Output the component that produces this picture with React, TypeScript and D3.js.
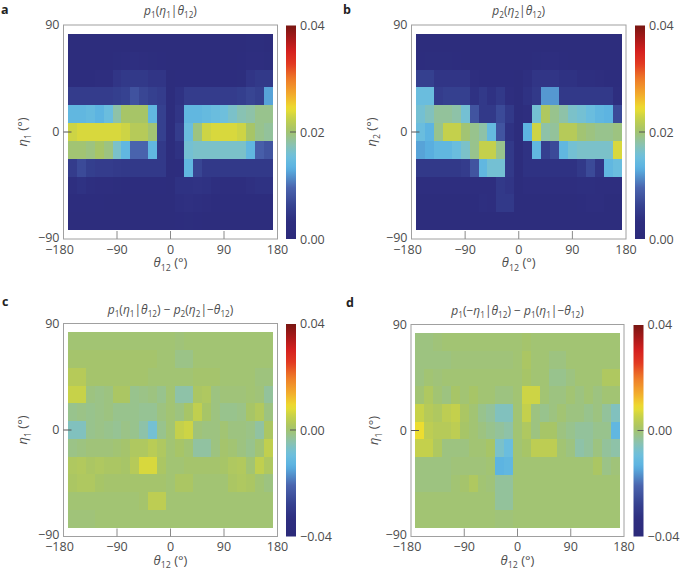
import React from 'react';
import * as d3 from 'd3';

// bin centres (degrees)
const thetaCenters = [-165, -150, -135, -120, -105, -90, -75, -60, -45, -30, -15, 0, 15, 30, 45, 60, 75, 90, 105, 120, 135, 150, 165];
const etaCenters = [75, 60, 45, 30, 15, 0, -15, -30, -45, -60, -75];
const xTicks = [-180, -90, 0, 90, 180];
const yTicks = [90, 0, -90];

// values in units of 1e-3, rows follow etaCenters, columns follow thetaCenters
const pA = [
  [1.8, 1.8, 1.8, 1.8, 1.8, 1.8, 2, 2, 2, 1.8, 1.8, 1.8, 1.8, 1.8, 1.8, 1.8, 1.8, 1.8, 1.8, 2, 2.6, 2.6, 2],
  [2, 2, 2, 2, 2, 2.6, 2.8, 3.4, 3.2, 2.6, 2.4, 1.8, 2, 2, 2, 2, 2, 2, 2, 2.4, 3, 3, 2.6],
  [2.5, 2.5, 2.5, 2.8, 3, 4.5, 5, 5, 5, 4.5, 4.5, 1.8, 2.2, 2.2, 2.2, 2.2, 2.3, 2.3, 2.4, 2.6, 4.5, 5, 5],
  [5.5, 5.5, 5.5, 5.5, 5.5, 5.8, 6.2, 7.8, 6.6, 6, 5.5, 2, 4, 5.5, 5.5, 5.5, 5.5, 5.5, 5.5, 5.8, 6.5, 6, 12.5],
  [14, 14, 14.5, 13.5, 15, 18, 20.5, 20.5, 20.5, 14, 6, 2, 4.5, 14, 14, 14.5, 15, 15.5, 16.5, 17.5, 18, 19, 19],
  [23, 23.5, 23.5, 23.5, 23.5, 23.5, 23, 21.5, 21.5, 20, 6, 2, 5.5, 15, 19.5, 23, 23.5, 23.5, 23.5, 23, 20.5, 19, 18.5],
  [20, 20, 19.5, 20.5, 19.5, 16.5, 14, 9.5, 9.5, 14, 5, 2, 4, 16, 16.5, 16.5, 16.5, 16.5, 16.5, 16.5, 14, 9, 8],
  [5.5, 7, 5.8, 5.5, 5.5, 5.2, 5, 5, 5, 5, 5, 2, 2.5, 14, 6.5, 5, 5, 5, 5, 5, 5, 5, 5],
  [3.5, 4, 3.5, 3, 3, 2.6, 2.5, 2.5, 2.5, 2.5, 2.5, 2, 4, 4, 4.2, 4, 3.5, 2.8, 2.8, 3, 3.8, 4, 4],
  [2.2, 2.2, 2.2, 2.2, 2, 2, 2, 2, 2, 2, 2, 2, 3.5, 3.8, 3.5, 3.2, 2.4, 2.2, 2.2, 2.2, 2.2, 2.2, 2.2],
  [1.8, 1.8, 1.8, 1.8, 1.8, 1.8, 1.8, 1.8, 1.8, 1.8, 1.8, 1.8, 2.4, 2.6, 2.4, 2, 1.8, 1.8, 1.8, 1.8, 1.8, 1.8, 1.8],
];

const pB = [
  [2, 1.8, 1.8, 1.8, 1.8, 1.8, 1.8, 1.8, 1.8, 1.8, 1.8, 1.8, 1.8, 1.8, 1.8, 1.8, 1.8, 1.8, 1.8, 1.8, 1.8, 1.8, 1.8],
  [2.2, 2.6, 2.6, 2.6, 2.2, 2, 2, 2, 2, 2, 2, 1.8, 2, 2.6, 3, 3, 2.2, 2, 2, 2, 2, 2, 2],
  [6, 6, 4.5, 4.5, 4.5, 4.5, 3, 2.5, 2.5, 2.5, 2.5, 1.8, 3.5, 4.5, 4.5, 4.5, 4, 4, 3.5, 3.5, 3, 2.5, 2.5],
  [15, 15, 5.5, 6, 6, 6, 4, 5, 4, 5, 3, 1.8, 4, 5, 12, 12, 5, 5, 5, 5, 5, 5, 3],
  [16, 17, 18.5, 18.5, 18, 16, 8, 5, 5, 7, 5, 1.8, 3, 16, 21, 19, 18, 16.5, 16, 15, 14, 13.5, 7],
  [15, 13.5, 19, 22.5, 22.5, 20, 19, 18, 14.5, 8, 4, 1.8, 13.5, 23, 18, 18.5, 21.5, 21.5, 20, 19.5, 19, 19, 19.5],
  [12.5, 13, 14, 14, 15, 16.5, 19, 22.5, 22.5, 19, 5, 1.8, 4, 14, 6, 7, 14, 16, 16.5, 16.5, 16.5, 16.5, 23.5],
  [5, 5, 5, 5, 5, 5.5, 8, 14, 16, 16, 5, 1.8, 4, 4, 4, 4, 4, 4, 5, 7, 4.5, 14, 15],
  [3.2, 3, 3, 3, 3, 3, 3, 3, 3, 5, 4.5, 1.8, 3, 3, 3, 2.8, 2.8, 3, 3.5, 3.5, 3, 3, 3],
  [2, 2, 2, 2, 2, 2, 2.2, 3.5, 3, 5, 5, 1.8, 2, 2, 2, 2, 2, 2, 2.2, 3, 3, 2, 2],
  [1.8, 1.8, 1.8, 1.8, 1.8, 1.8, 1.8, 1.8, 1.8, 1.8, 1.8, 1.8, 1.8, 1.8, 1.8, 1.8, 1.8, 1.8, 1.8, 1.8, 1.8, 1.8, 1.8],
];

const pC = [
  [0, 0, 0, 0, 0, 0, 0, 0, 0, 0, 0, 0, -0.5, 0, 0, 0, 0, 0, 0, 0, 0, 0, 0],
  [0.5, 0.5, 0.5, 0.5, 0.5, 0.5, 0.5, 0.5, 0.5, 0.5, 0, 0, -1.5, -1.5, 0, 0, 0, 0, 0, 0, 0, 0, 0],
  [3, 3, 0.5, 0.5, 0.5, 0.5, 0.5, 0.5, 0.5, 0, 0, 0, 0, 0, 0.5, 0.5, 0.5, 0, 0, 0, 0, -0.8, -0.8],
  [5.5, 5.5, -1, -1.5, -1, 1.5, 1.5, -2, -1.5, -1, -2, 0, -4, -4, 1.5, 2, -1, -0.5, -0.5, -0.5, 0, -0.5, -3],
  [-2, -1.5, -2, -1.5, -1, -2, -2, -2, -2.5, -2.5, -1, 0, -1, 1, 4.5, 1, -1, -2, -2, -1.5, 1, 2.5, -1],
  [-6, -6, -2, -1.5, -2, -2.5, -1.5, -2, -4, -8, -2, 0, 5, 6, -0.5, -1, -1, 0, -1, -1, -1.5, -3.5, 1.5],
  [-1.5, -1, -0.5, -0.5, -0.5, 0, 0.5, 2, 2, 3.5, 2, 0, 1, 0, -3.5, -3.5, -1, 0.5, 0, -1, -2, 0, 4.5],
  [2, 2.5, 1.5, 2, 1.5, 1.5, 1, 3, 7, 7, 1.5, 0, 0, 0.5, 0.5, 0.5, 0.5, 1, 2, 2.5, 0, 4.5, 2],
  [1.5, 2, 2, 1, 0.5, 0.5, 0.5, 0.5, 0.5, 0.5, 0.5, 0, 1.5, 1.5, 0, 0, 0, 0, 1.5, 2, 1.5, 0, -1],
  [0, 0, 0, 0, 0, 0, 0, 0, 0.5, 4, 4, 0, 0, 0, 0, 0, 0, 0, 0, 0, 0, 0, 0],
  [-0.5, -0.5, -0.5, 0, 0, 0, 0, 0, 0, 0, 0, 0, 0, 0, 0, 0, 0, 0, 0, 0, 0, 0, 0],
];

const pD = [
  [-1, -1, -0.5, 0, 0, 0, 0, 0, 0, 0, 0, 0, 0.5, 0, 0, 0, 0, 0, 0, 0, 0, 0, 0],
  [-1, -1, -1, -1, -0.5, -0.5, -0.5, -0.5, -0.5, -0.5, -0.5, 0, 1.5, 0, 0, -1, -1, 0, 0, 0, 0, 0, 0],
  [-1, 0, -0.5, 0, 0, 0, 0, 0, 0, 0, 0, 0, 1, 0, 0, -2, -2, -1, 0, 0, 0, 2, 2],
  [0, 2, 0, -1, 1, 0, 1, 0, 0, -1, -1, 0, 6, 6, 0, -1, -1, 0, -1, 0, -1, 0, 0],
  [5.5, 3, 2, 4, 5, 1.5, 0, -2, -3, -6, -6, 0, 5, -1, -2, -1, 0, -1, -1, -2, -1, -3, -6],
  [9, 4, 3, 3, 4, 1, 0, -1, -2, -3, -4, 0, 2, -1, 1, 1, -1, -2, -3, -3, -2, -2, -12],
  [5, 5, 2, -1, -1, -1, 0, 0, 1, -7, -10, 0, 1, 4, 4, 4, 0, -1, -4, -3, -1, -3, -4],
  [-1, -1, -1, -1, -0.5, -0.5, -0.5, -0.5, 0, -13, -12, 0, 0, 0, 0, 0, 0, 0, 0, 0, 1.5, -1.5, -0.5],
  [-1, -1, -1, -1, 0, 0.5, 2, 0, -0.5, -3, -3, 0, 0, 0, 0, 0, 0, 0, 0, 0, 0, 0, 0],
  [0, 0, 0, 0, 0, 0, 0, 0, 0, -3, -3, 0, 0, 0, 0, 0, 0, 0, 0, 0, 0, 0, 0],
  [0, 0, 0, 0, 0, 0, 0, 0, 0, -0.5, -0.5, 0, 0, 0, 0, 0, 0, 0, 0, 0, 0, 0, 0],
];

// colour map stops (position 0..1 along the bar)
const cmapPos = [0, 0.09, 0.15, 0.24, 0.33, 0.39, 0.45, 0.51, 0.57, 0.61, 0.67, 0.75, 0.82, 0.88, 0.95, 1];
const cmapCol = ['#2c2a7a', '#2e2f80', '#35408f', '#4a64ae', '#5ab2e2', '#6fc0dc', '#8ec2a8', '#a6c468', '#c8d248', '#ecdf30', '#f2b02c', '#ee7a28', '#e23a22', '#d4201f', '#a01818', '#781612'];

const FONT = "'Open Sans', 'DejaVu Sans', sans-serif";
const TXT = '#4d4d4d';

const cmap = d3.scaleLinear<string>().domain(cmapPos).range(cmapCol).interpolate(d3.interpolateRgb).clamp(true);

type Seg = { t: string; i?: boolean; sub?: boolean };

function Rich({ segs, size }: { segs: Seg[]; size: number }) {
  let prev = 0;
  return (
    <>
      {segs.map((s, k) => {
        const shift = s.sub ? size * 0.28 : 0;
        const dy = shift - prev;
        prev = shift;
        return (
          <tspan key={k} dy={dy} fontStyle={s.i ? 'italic' : 'normal'} fontSize={s.sub ? size * 0.68 : size}>
            {s.t}
          </tspan>
        );
      })}
    </>
  );
}

const titleA: Seg[] = [{ t: 'p', i: true }, { t: '1', sub: true }, { t: '(' }, { t: 'η', i: true }, { t: '1', sub: true }, { t: '|' }, { t: 'θ', i: true }, { t: '12', sub: true }, { t: ')' }];
const titleB: Seg[] = [{ t: 'p', i: true }, { t: '2', sub: true }, { t: '(' }, { t: 'η', i: true }, { t: '2', sub: true }, { t: '|' }, { t: 'θ', i: true }, { t: '12', sub: true }, { t: ')' }];
const titleC: Seg[] = [...titleA, { t: ' − ' }, { t: 'p', i: true }, { t: '2', sub: true }, { t: '(' }, { t: 'η', i: true }, { t: '2', sub: true }, { t: '|−' }, { t: 'θ', i: true }, { t: '12', sub: true }, { t: ')' }];
const titleD: Seg[] = [{ t: 'p', i: true }, { t: '1', sub: true }, { t: '(−' }, { t: 'η', i: true }, { t: '1', sub: true }, { t: '|' }, { t: 'θ', i: true }, { t: '12', sub: true }, { t: ') − ' }, { t: 'p', i: true }, { t: '1', sub: true }, { t: '(' }, { t: 'η', i: true }, { t: '1', sub: true }, { t: '|−' }, { t: 'θ', i: true }, { t: '12', sub: true }, { t: ')' }];

const panels = [
  { id: 'a', data: pA, title: titleA, yl: '1', dom: [0, 40], cbLabels: ['0.04', '0.02', '0.00'], x0: 63.5, x1: 277.5, y0: 25, y1: 239, cb: 286, lx: 1, ly: 13.5, ylx: 23 },
  { id: 'b', data: pB, title: titleB, yl: '2', dom: [0, 40], cbLabels: ['0.04', '0.02', '0.00'], x0: 411.5, x1: 626, y0: 25, y1: 239, cb: 635, lx: 343, ly: 13.5, ylx: 372 },
  { id: 'c', data: pC, title: titleC, yl: '1', dom: [-40, 40], cbLabels: ['0.04', '0.00', '−0.04'], x0: 63.5, x1: 277.5, y0: 323.5, y1: 536.5, cb: 286, lx: 2, ly: 306, ylx: 23 },
  { id: 'd', data: pD, title: titleD, yl: '1', dom: [-40, 40], cbLabels: ['0.04', '0.00', '−0.04'], x0: 411, x1: 624, y0: 324.5, y1: 536.5, cb: 633.5, lx: 346, ly: 307, ylx: 374 },
];

function Panel({ p }: { p: (typeof panels)[number] }) {
  const x = d3.scaleLinear().domain([-180, 180]).range([p.x0, p.x1]);
  const y = d3.scaleLinear().domain([-90, 90]).range([p.y1, p.y0]);
  const t = d3.scaleLinear().domain(p.dom).range([0, 1]);
  const cbW = 10;
  const gid = `grad-${p.id}`;
  const cbScale = d3.scaleLinear().domain([0, 1]).range([p.y1, p.y0]);
  const xc = (p.x0 + p.x1) / 2;
  const yc = (p.y0 + p.y1) / 2;
  return (
    <g>
      <defs>
        <linearGradient id={gid} x1="0" y1="1" x2="0" y2="0">
          {d3.range(0, 1.0001, 0.02).map((s) => (
            <stop key={s} offset={s} stopColor={cmap(s)} />
          ))}
        </linearGradient>
      </defs>
      <rect x={p.x0} y={p.y0} width={p.x1 - p.x0} height={p.y1 - p.y0} fill="#fff" stroke="#a0a0a0" strokeWidth={1} />
      <g shapeRendering="crispEdges">
        {p.data.map((row, i) =>
          row.map((v, j) => {
            const th = thetaCenters[j];
            const et = etaCenters[i];
            const rx = Math.round(x(th - 7.5));
            const ry = Math.round(y(et + 7.5));
            return (
              <rect key={`${i}-${j}`} x={rx} y={ry} width={Math.round(x(th + 7.5)) - rx} height={Math.round(y(et - 7.5)) - ry} fill={cmap(t(v))} />
            );
          })
        )}
      </g>
      {/* ticks */}
      <line x1={p.x0} x2={p.x0 + 8} y1={y(0)} y2={y(0)} stroke="#555" strokeWidth={1} />
      {[-90, 0, 90].map((v) => (
        <line key={v} x1={x(v)} x2={x(v)} y1={p.y1} y2={p.y1 - 8} stroke="#8a8a8a" strokeWidth={1} />
      ))}
      {yTicks.map((v) => (
        <text key={v} x={p.x0 - 4} y={y(v) + (v === -90 ? 2.5 : 4)} textAnchor="end" fontSize={12.5} fill={TXT} fontFamily={FONT}>
          {v < 0 ? `−${-v}` : v}
        </text>
      ))}
      {xTicks.map((v) => (
        <text key={v} x={x(v) + (v === -180 ? -4 : 0)} y={p.y1 + 14.5} textAnchor="middle" fontSize={12.5} fill={TXT} fontFamily={FONT}>
          {v < 0 ? `−${-v}` : v}
        </text>
      ))}
      {/* axis titles */}
      <text x={xc} y={p.y1 + 28} textAnchor="middle" fill={TXT} fontFamily={FONT}>
        <Rich size={13} segs={[{ t: 'θ', i: true }, { t: '12', sub: true }, { t: ' (°)' }]} />
      </text>
      <text transform={`translate(${p.ylx + 4},${yc}) rotate(-90)`} textAnchor="middle" fill={TXT} fontFamily={FONT}>
        <Rich size={13} segs={[{ t: 'η', i: true }, { t: p.yl, sub: true }, { t: ' (°)' }]} />
      </text>
      {/* title and label */}
      <text x={xc} y={p.y0 - 10} textAnchor="middle" fill={TXT} fontFamily={FONT}>
        <Rich size={12} segs={p.title} />
      </text>
      <text x={p.lx} y={p.ly} fontSize={12.5} fontWeight="bold" fill="#222" fontFamily={FONT}>
        {p.id}
      </text>
      {/* colour bar */}
      <rect x={p.cb} y={p.y0 + 0.5} width={cbW} height={p.y1 - p.y0 - 0.5} fill={`url(#${gid})`} />
      <line x1={p.cb + cbW - 6} x2={p.cb + cbW} y1={cbScale(0.5)} y2={cbScale(0.5)} stroke="#555" strokeWidth={1} />
      {p.cbLabels.map((l, k) => (
        <text key={l} x={p.cb + cbW + 4} y={cbScale(1 - k * 0.5) + 4.5} fontSize={12.5} fill={TXT} fontFamily={FONT}>
          {l}
        </text>
      ))}
    </g>
  );
}

export default function App() {
  return (
    <svg width={685} height={576} style={{ position: 'absolute', left: 0, top: 0, background: '#fff' }}>
      {panels.map((p) => (
        <Panel key={p.id} p={p} />
      ))}
    </svg>
  );
}
